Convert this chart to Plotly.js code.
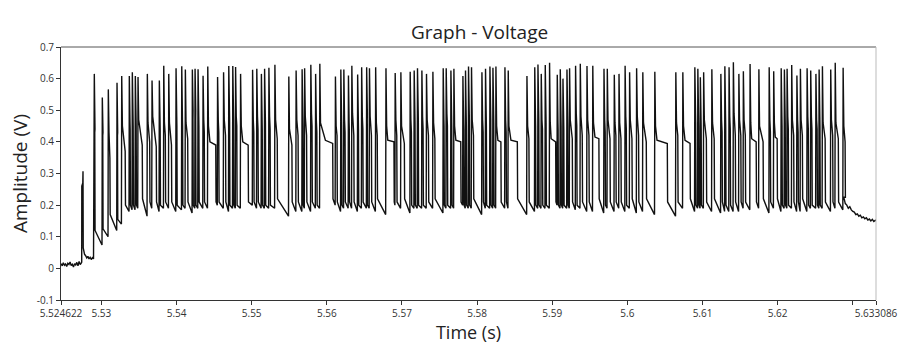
<!DOCTYPE html>
<html>
<head>
<meta charset="utf-8">
<script src="https://cdn.plot.ly/plotly-3.0.1.min.js"></script>
<style>html,body{margin:0;padding:0;background:#fff;}#chart{width:898px;height:344px;}</style>
</head>
<body>
<div id="chart"></div>
<script>
// ---- Data ----
// Baseline before the first spikes (time s, amplitude V)
const preT = [5.524622,5.52478,5.52493,5.52508,5.52523,5.52538,5.52553,5.52568,5.52583,5.52598,5.52613,5.52628,5.52643,5.52658,5.52673,5.52688,5.52703,5.52718,5.52735,
  5.52738,5.52739,5.52752,5.52755,5.52758,5.52775,5.5279,5.52805,5.5282,5.52835,5.5285,5.52865,5.5288,5.52895];
const preV = [0.015,0.008,0.018,0.010,0.014,0.006,0.016,0.012,0.020,0.009,0.013,0.004,0.015,0.011,0.019,0.008,0.022,0.012,0.018,
  0.020,0.260,0.270,0.307,0.065,0.045,0.040,0.033,0.038,0.030,0.035,0.028,0.034,0.030];

// Spikes: onset time, peak, shoulder after peak, high-state duration (ms), level at end of high state,
// level just after dropping back, level just before the next spike
const spikeT = [
5.529015,5.53008,5.530879,5.532037,5.532663,
5.533675,5.534075,5.534474,5.534834,5.536072,
5.536698,5.53767,5.538256,5.538922,5.539894,
5.540653,5.541132,5.542064,5.542424,5.542823,
5.543489,5.544115,5.54542,5.546219,5.546911,
5.547444,5.547817,5.548483,5.55008,5.55064,
5.551252,5.551678,5.552251,5.55305,5.554901,
5.555873,5.556672,5.557005,5.55783,5.55847,
5.559029,5.561106,5.561825,5.562225,5.562837,
5.56329,5.564062,5.564595,5.565261,5.565634,
5.566459,5.567831,5.569057,5.569815,5.571054,
5.571586,5.572026,5.572611,5.573224,5.574076,
5.575448,5.575847,5.576473,5.576872,5.578071,
5.578418,5.578817,5.579216,5.580601,5.581081,
5.581667,5.582066,5.582465,5.583663,5.584103,
5.586593,5.587632,5.588058,5.588497,5.58903,
5.589603,5.590628,5.591028,5.591387,5.591919,
5.592266,5.593065,5.593691,5.594583,5.595355,
5.596846,5.597286,5.598218,5.598844,5.599656,
5.600255,5.601188,5.602013,5.603611,5.606407,
5.60734,5.608938,5.609337,5.60967,5.610109,
5.611201,5.6124,5.612932,5.613491,5.614064,
5.614796,5.615395,5.616288,5.61746,5.618831,
5.619431,5.620429,5.620855,5.621215,5.621828,
5.62252,5.622986,5.623878,5.624358,5.62505,
5.625476,5.625916,5.627021,5.62762,5.628672];
const spikePeak = [
.615,.54,.566,.587,.608, .608,.62,.608,.605,.615, .594,.594,.641,.615,.633, .639,.629,.629,.631,.63,
.609,.638,.605,.62,.64, .64,.637,.615,.628,.631, .615,.631,.634,.644,.607, .626,.63,.633,.644,.615,
.647,.607,.629,.629,.61, .641,.613,.636,.636,.633, .636,.633,.618,.62,.622, .626,.633,.626,.615,.622,
.633,.633,.626,.631,.608, .626,.638,.636,.62,.631, .638,.634,.638,.636,.626, .608,.636,.645,.615,.643,
.65,.612,.63,.60,.629, .633,.641,.647,.64,.641, .631,.631,.612,.615,.641, .62,.633,.62,.622,.62,
.62,.636,.631,.604,.62, .63,.615,.639,.636,.652, .615,.623,.646,.63,.636, .623,.633,.629,.631,.643,
.61,.631,.633,.626,.615, .629,.639,.629,.65,.634];
const shoulderV = [
.44,.43,.43,.43,.45, .46,.48,.48,.47,.46, .48,.47,.46,.46,.48, .47,.46,.5,.5,.48,
.47,.45,.47,.47,.5, .5,.48,.45,.47,.48, .47,.49,.48,.47,.44, .47,.48,.48,.49,.47,
.46,.45,.48,.47,.46, .49,.47,.48,.49,.48, .46,.45,.47,.45,.47, .49,.5,.48,.47,.46,
.47,.49,.48,.45,.46, .48,.5,.47,.47,.48, .5,.49,.45,.47,.45, .45,.48,.5,.47,.49,
.46,.46,.48,.47,.48, .47,.49,.48,.47,.46, .47,.47,.46,.46,.48, .47,.48,.46,.45,.46,
.45,.49,.48,.47,.47, .46,.47,.48,.48,.49, .47,.47,.46,.45,.47, .46,.48,.49,.48,.47,
.47,.47,.48,.48,.47, .48,.46,.47,.46,.45];
const highMs = [
.1,.1,.25,.1,.5, .15,.15,.15,.6,.35, .6,.15,.25,.4,.15, .15,.35,.12,.12,.15,
.2,1.1,.2,.3,.15, .15,.2,1.05,.2,.2, .15,.15,.2,.35,.45, .3,.15,.3,.2,.2,
1.75,.25,.15,.2,.15, .3,.15,.2,.12,.3, .25,1.1,.25,.5,.2, .15,.15,.2,.3,.3,
.15,.2,.15,.95,.15, .15,.15,.3,.2,.15, .15,.15,.7,.2,1.25, .3,.15,.15,.2,.15,
.85,.15,.15,.15,.15, .4,.2,.3,.3,.85, .2,.4,.25,.3,.2, .35,.3,.5,1.7,.3,
1.0,.15,.15,.15,.4, .35,.2,.15,.2,.3, .3,.3,.85,.6,.2, .5,.15,.15,.2,.3,
.2,.3,.2,.2,.2, .15,.4,.3,.45,.3];
const highEndV = [
.43,.42,.35,.42,.37, .44,.45,.45,.39,.40, .385,.44,.42,.39,.45, .45,.41,.47,.47,.45,
.43,.39,.43,.42,.47, .47,.45,.39,.43,.44, .44,.46,.44,.41,.39, .42,.45,.42,.45,.43,
.395,.42,.45,.43,.44, .42,.44,.44,.47,.42, .42,.40,.42,.395,.43, .46,.47,.44,.42,.41,
.45,.45,.45,.40,.44, .45,.47,.42,.43,.45, .47,.46,.40,.43,.40, .41,.45,.47,.44,.46,
.40,.44,.45,.44,.45, .41,.45,.42,.42,.41, .43,.41,.42,.41,.44, .41,.42,.40,.395,.42,
.395,.46,.45,.44,.41, .41,.43,.45,.44,.42, .42,.42,.40,.40,.43, .41,.45,.46,.44,.42,
.43,.42,.44,.44,.44, .45,.41,.42,.41,.40];
const lowStartV = [
.12,.125,.17,.155,.2, .2,.2,.2,.22,.21, .21,.2,.21,.21,.2, .2,.21,.2,.2,.21,
.21,.21,.21,.21,.2, .2,.2,.21,.21,.21, .2,.2,.2,.22,.21, .21,.2,.21,.21,.2,
.22,.21,.2,.21,.21, .21,.2,.21,.2,.21, .22,.21,.21,.22,.2, .2,.2,.2,.21,.22,
.2,.2,.2,.21,.2, .2,.2,.22,.21,.2, .2,.2,.21,.21,.22, .21,.2,.2,.2,.2,
.21,.2,.2,.2,.2, .21,.2,.21,.21,.22, .2,.21,.21,.21,.2, .22,.21,.22,.21,.21,
.22,.2,.2,.2,.21, .22,.21,.2,.2,.21, .21,.21,.21,.22,.21, .22,.2,.2,.2,.21,
.21,.22,.2,.2,.2, .2,.21,.21,.21,.225];
const lowEndV = [
.074,.10,.12,.14,.18, .185,.185,.19,.165,.19, .18,.19,.19,.18,.185, .19,.175,.19,.19,.19,
.19,.20,.19,.18,.19, .19,.19,.20,.19,.19, .19,.19,.19,.165,.18, .18,.19,.18,.19,.19,
.20,.18,.19,.19,.19, .18,.19,.19,.19,.18, .17,.20,.19,.175,.19, .19,.19,.19,.19,.175,
.19,.19,.19,.20,.19, .19,.19,.17,.19,.19, .19,.19,.19,.19,.17, .18,.19,.19,.19,.19,
.20,.19,.19,.19,.19, .185,.19,.18,.18,.175, .19,.18,.19,.18,.19, .175,.18,.17,.165,.19,
.18,.19,.19,.19,.18, .175,.18,.18,.18,.18, .19,.185,.19,.175,.19, .18,.19,.19,.19,.18,
.18,.18,.19,.19,.19, .19,.18,.19,.185,.18];

// Long flat plateaus (~0.4 V): which spike (0-based), when the flat part starts (ms after onset), its level
const plateauSpike   = [21, 27, 40, 51, 63, 72, 74, 80, 89, 98, 100, 112, 115];
const plateauStartMs = [0.2, 0.2, 0.65, 0.15, 0.17, 0.17, 0.27, 0.12, 0.2, 0.2, 0.2, 0.12, 0.12];
const plateauV       = [0.40, 0.40, 0.405, 0.405, 0.405, 0.405, 0.405, 0.41, 0.415, 0.405, 0.405, 0.41, 0.415];

// Tail after the last spike
const postT = [5.6288,5.629,5.6292,5.6294,5.6296,5.6298,5.63,5.6302,5.6304,5.6306,5.6308,5.631,5.6312,5.6314,5.6316,5.6318,5.632,5.6322,5.6324,5.6326,5.6328,5.633,5.633086];
const postV = [0.225,0.205,0.200,0.190,0.195,0.185,0.180,0.178,0.170,0.172,0.165,0.168,0.160,0.163,0.157,0.160,0.153,0.156,0.150,0.155,0.148,0.152,0.150];

// Axis ticks
const xTickVals = [5.524622,5.53,5.54,5.55,5.56,5.57,5.58,5.59,5.6,5.61,5.62,5.63,5.633086];
const xTickText = ['5.524622','5.53','5.54','5.55','5.56','5.57','5.58','5.59','5.6','5.61','5.62','','5.633086'];
const yTickVals = [-0.1,0,0.1,0.2,0.3,0.4,0.5,0.6,0.7];
const yTickText = ['-0.1','0','0.1','0.2','0.3','0.4','0.5','0.6','0.7'];

// ---- Build the trace vertices from the read values ----
const dPk = 0.00004, dSh = 0.00013, dDrop = 0.00004;
const xs = preT.slice(), ys = preV.slice();
for (let i = 0; i < spikeT.length; i++) {
  const t = spikeT[i];
  if (i > 0) { xs.push(t); ys.push(lowEndV[i-1]); }
  xs.push(t + dPk); ys.push(spikePeak[i]);
  xs.push(t + dSh); ys.push(shoulderV[i]);
  const k = plateauSpike.indexOf(i);
  if (k >= 0) { xs.push(t + dSh + plateauStartMs[k] / 1000); ys.push(plateauV[k]); }
  const te = t + highMs[i] / 1000;
  xs.push(te); ys.push(highEndV[i]);
  xs.push(te + dDrop); ys.push(lowStartV[i]);
}
for (let i = 0; i < postT.length; i++) { xs.push(postT[i]); ys.push(postV[i]); }

const FONT = 'Open Sans, Noto Sans, sans-serif';
const trace = {
  x: xs, y: ys, type: 'scatter', mode: 'lines',
  line: {color: '#111111', width: 1.4, simplify: false},
  hoverinfo: 'skip'
};
const layout = {
  width: 898, height: 344,
  margin: {l: 61, r: 22, t: 47, b: 44},
  paper_bgcolor: '#ffffff', plot_bgcolor: '#ffffff',
  showlegend: false,
  title: {text: 'Graph - Voltage', font: {family: FONT, size: 19, color: '#222'},
          xref: 'container', yref: 'container', x: 0.534, xanchor: 'center', y: 0.905, yanchor: 'middle'},
  xaxis: {
    range: [5.524622, 5.633086], tickmode: 'array', tickvals: xTickVals, ticktext: xTickText,
    ticks: 'outside', ticklen: 4, tickcolor: '#333', tickwidth: 1,
    showline: true, linecolor: '#333', linewidth: 1, showgrid: false, zeroline: false,
    tickfont: {family: FONT, size: 10, color: '#333'},
    title: {text: 'Time (s)', font: {family: FONT, size: 18, color: '#222'}, standoff: 6}
  },
  yaxis: {
    range: [-0.1, 0.7], tickmode: 'array', tickvals: yTickVals, ticktext: yTickText,
    ticks: 'outside', ticklen: 4, tickcolor: '#333', tickwidth: 1,
    showline: true, linecolor: '#333', linewidth: 1, showgrid: false, zeroline: false,
    tickfont: {family: FONT, size: 10, color: '#333'},
    title: {text: 'Amplitude (V)', font: {family: FONT, size: 19, color: '#222'}, standoff: 4}
  },
  shapes: [
    {type: 'line', xref: 'paper', yref: 'paper', x0: 0, x1: 1, y0: 1, y1: 1, line: {color: '#555', width: 1}},
    {type: 'line', xref: 'paper', yref: 'paper', x0: 1, x1: 1, y0: 0, y1: 1, line: {color: '#bbb', width: 1}}
  ]
};
Plotly.newPlot('chart', [trace], layout, {staticPlot: true, displayModeBar: false});
</script>
</body>
</html>
